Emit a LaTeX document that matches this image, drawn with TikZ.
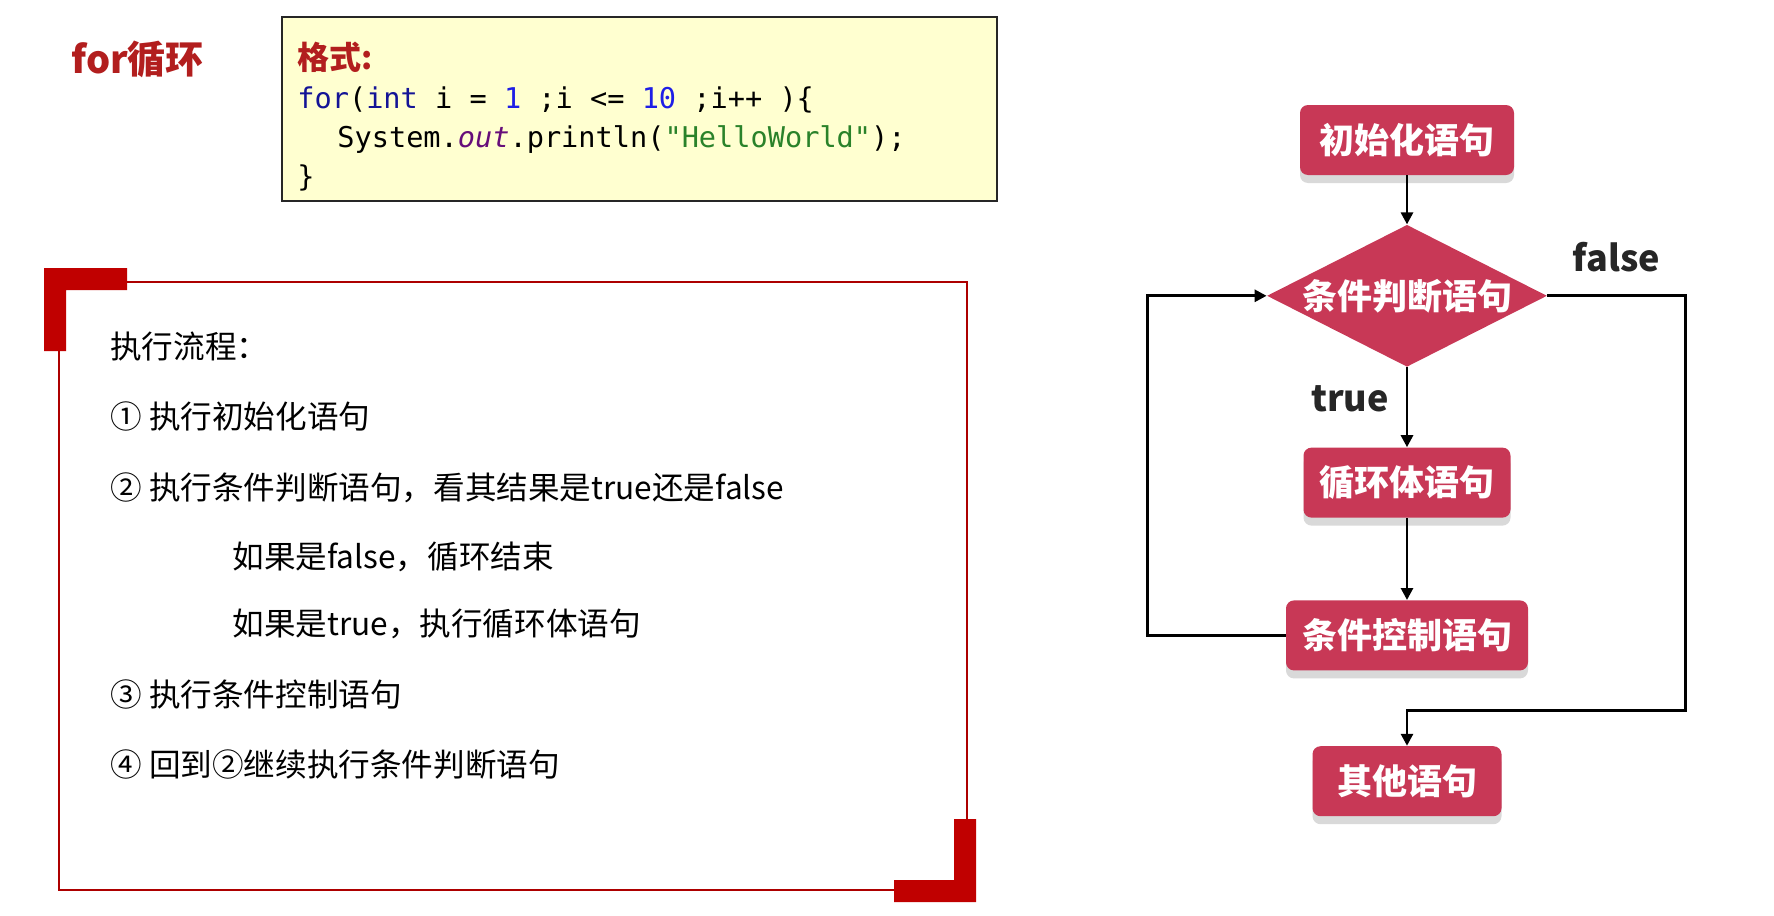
\documentclass[tikz,border=0pt]{standalone}
\usepackage{fontspec}
\setmainfont{Noto Sans CJK SC}
\newfontfamily\codefont{DejaVu Sans Mono}
\usetikzlibrary{arrows.meta, positioning, shapes.geometric, shadows}

\definecolor{slidered}{RGB}{178,30,30}
\definecolor{framered}{RGB}{192,0,0}
\definecolor{boxred}{RGB}{200,56,86}
\definecolor{codebg}{RGB}{255,255,208}
\definecolor{kwblue}{RGB}{20,20,150}
\definecolor{numblue}{RGB}{30,30,230}
\definecolor{fieldpurple}{RGB}{102,14,122}
\definecolor{strgreen}{RGB}{42,130,42}

\tikzset{
	stmt/.style={rectangle, rounded corners=4pt, fill=boxred, text=white,
		font=\bfseries\fontsize{17.5}{20}\selectfont, minimum height=35pt, inner xsep=8pt,
		drop shadow={shadow xshift=0pt, shadow yshift=-4pt, fill=black!25, opacity=0.6}},
	test/.style={diamond, aspect=2, fill=boxred, text=white, inner sep=0pt,
		font=\bfseries\fontsize{17.5}{20}\selectfont, minimum width=140pt, minimum height=71pt},
	item/.style={font=\fontsize{15.8}{18}\selectfont, inner sep=0pt},
	branch/.style={font=\bfseries\fontsize{18}{20}\selectfont, text=black!85},
	flow/.style={-{Triangle[length=6pt, width=6pt]}, line width=1.4pt},
}

\begin{document}
\begin{tikzpicture}[x=0.5pt, y=-0.5pt, node distance=35pt]
\useasboundingbox (0,0) rectangle (1774,916);

\node (title) [font=\bfseries\fontsize{19}{22}\selectfont, text=slidered, anchor=west, inner sep=0pt] at (71,59) {for循环};

% code sample
\node (codebox) [draw=black!85, line width=1pt, fill=codebg, minimum width=357.5pt, minimum height=92pt, inner sep=0pt] at (639.5,109) {};
\node (code) [anchor=north west, inner sep=0pt, align=left, font=\codefont\fontsize{14.3}{19.5}\selectfont]
	at ([shift={(16,26)}]codebox.north west) {%
	{\rmfamily\bfseries\fontsize{16}{19.5}\selectfont\color{slidered}格式:}\\
	\textcolor{kwblue}{for}(\textcolor{kwblue}{int} i = \textcolor{numblue}{1} ;i <= \textcolor{numblue}{10} ;i++ )\{\\
	\hspace*{20pt}System.\textcolor{fieldpurple}{\itshape out}.println(\textcolor{strgreen}{"HelloWorld"});\\
	\}};

% steps panel
\draw [framered!90!black, line width=1pt] (59,282) rectangle (967,890);
\fill [framered] (44,268) -- (127,268) -- (127,290) -- (66,290) -- (66,351) -- (44,351) -- cycle;
\fill [framered] (976,902) -- (894,902) -- (894,880) -- (954,880) -- (954,819) -- (976,819) -- cycle;

\node (s0) [item, anchor=base west] at (110,358) {执行流程：};
\node (s1) [item, below=35pt of s0.base west, anchor=base west] {① 执行初始化语句};
\node (s2) [item, below=35.5pt of s1.base west, anchor=base west] {② 执行条件判断语句，看其结果是true还是false};
\node (s2a) [item, below=34.5pt of s2.base west, anchor=base west, xshift=61pt] {如果是false，循环结束};
\node (s2b) [item, below=33.5pt of s2a.base west, anchor=base west] {如果是true，执行循环体语句};
\node (s3) [item, below=35.5pt of s2b.base west, anchor=base west, xshift=-61pt] {③ 执行条件控制语句};
\node (s4) [item, below=35pt of s3.base west, anchor=base west] {④ 回到②继续执行条件判断语句};

% flow chart
\node (init) [stmt, minimum width=107pt] at (1407,140) {初始化语句};
\node (cond) [test, below=24.5pt of init] {条件判断语句};
\node (body) [stmt, minimum width=101pt, below=40pt of cond] {循环体语句};
\node (ctrl) [stmt, minimum width=115pt, below=41pt of body] {条件控制语句};
\node (other) [stmt, minimum width=94.5pt, below=37.5pt of ctrl] {其他语句};

\draw [flow] (init) -- (cond);
\draw [flow] (cond) -- node [branch, pos=0.4, left=5pt] {true} (body);
\draw [flow] (body) -- (ctrl);
\draw [flow] (ctrl.west) -- ++(-138,0) |- (cond.west);
\draw [flow] (cond.east) -- node [branch, above=8pt] {false} ++(138,0) -- ++(0,415) -| (other.north);
\end{tikzpicture}
\end{document}
